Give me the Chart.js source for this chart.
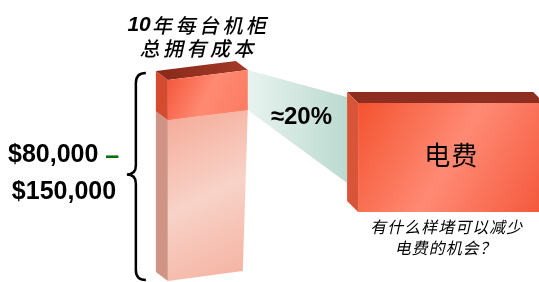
<!DOCTYPE html>
<html>
<head>
<meta charset="utf-8">
<script src="https://cdn.jsdelivr.net/npm/chart.js@4.4.1/dist/chart.umd.min.js"></script>
<style>
  body { margin: 0; background: #fff; }
  canvas { display: block; }
</style>
</head>
<body>
<canvas id="tcoChart" width="539" height="282"></canvas>
<script>
// data: share of 10-year TCO per rack
const categories = ['10年每台机柜总拥有成本', '', '电费'];
const otherCost = [80, null, null];
const powerCost = [20, null, null];
const powerZoom = [null, null, [0, 20]];
const titleLines = ['10年每台机柜', '总拥有成本'];
const rangeLabels = ['$80,000', '$150,000'];
const shareLabel = '≈20%';
const questionLines = ['有什么样堵可以减少', '电费的机会？'];

const CJK = '"Noto Sans CJK SC", sans-serif';
const LATIN = '"Liberation Sans", Arial, sans-serif';

function poly(ctx, pts, fill) {
    ctx.beginPath();
    ctx.moveTo(pts[0][0], pts[0][1]);
    for (let i = 1; i < pts.length; i++) ctx.lineTo(pts[i][0], pts[i][1]);
    ctx.closePath();
    ctx.fillStyle = fill;
    ctx.fill();
}

function grad(ctx, x0, y0, x1, y1, stops) {
    const g = ctx.createLinearGradient(x0, y0, x1, y1);
    stops.forEach(s => g.addColorStop(s[0], s[1]));
    return g;
}

// CJK fonts have no italic face, so slant by hand
function slanted(ctx, text, x, y) {
    ctx.save();
    ctx.translate(x, y);
    ctx.transform(1, 0, -0.22, 1, 0, 0);
    ctx.fillText(text, 0, 0);
    ctx.restore();
}

const boxPlugin = {
    id: 'boxes3d',
    afterDatasetsDraw(chart) {
        const ctx = chart.ctx;
        const low = chart.getDatasetMeta(0).data[0].getProps(['x', 'y', 'base', 'width'], true);
        const high = chart.getDatasetMeta(1).data[0].getProps(['x', 'y', 'base', 'width'], true);
        const box = chart.getDatasetMeta(2).data[2].getProps(['x', 'y', 'base', 'width'], true);

        // tall bar, slightly tilted
        const L = high.x - high.width / 2, R = high.x + high.width / 2;
        const tilt = 5;
        const yl = v => v + tilt, yr = v => v - tilt;
        const dx = -12, dy = -9;

        const bL = box.x - box.width / 2, bR = box.x + box.width / 2;
        const bdx = -11, bdy = -11;

        ctx.save();
        // connector wedge
        poly(ctx, [[R, yr(high.y)], [bL + bdx, box.y - 6], [bL + bdx, box.base - 29], [R, yr(high.base)]],
            grad(ctx, R, 0, bL, 0, [[0, '#e8f3ef'], [1, '#b6d8cc']]));

        // pale lower part
        poly(ctx, [[L + dx, yl(low.y) + dy], [L, yl(low.y)], [L, yl(low.base)], [L + dx, yl(low.base) + dy]], '#cf9486');
        poly(ctx, [[L, yl(low.y)], [R, yr(low.y)], [R - 5, yr(low.base)], [L, yl(low.base)]],
            grad(ctx, L, low.y, R, low.base, [[0, '#f5ab99'], [0.5, '#f8d3c8'], [1, '#f5b2a1']]));

        // red top part
        poly(ctx, [[L + dx, yl(high.y) + dy], [L, yl(high.y)], [L, yl(high.base)], [L + dx, yl(high.base) + dy]], '#d54b30');
        poly(ctx, [[L + dx, yl(high.y) + dy], [R + dx, yr(high.y) + dy], [R, yr(high.y)], [L, yl(high.y)]],
            grad(ctx, L, 0, R, 0, [[0, '#8c2b1c'], [1, '#a43a27']]));
        poly(ctx, [[L, yl(high.y)], [R, yr(high.y)], [R, yr(high.base)], [L, yl(high.base)]],
            grad(ctx, L, high.y, R, high.base, [[0, '#f4563a'], [0.5, '#ff8a72'], [1, '#fa7a60']]));

        // magnified power box
        poly(ctx, [[bL + bdx, box.y + bdy], [bR + bdx, box.y + bdy], [bR, box.y], [bL, box.y]], '#8e2e20');
        poly(ctx, [[bL + bdx, box.y + bdy], [bL, box.y], [bL, box.base], [bL + bdx, box.base + bdy]], '#d8553a');
        poly(ctx, [[bL, box.y], [bR, box.y], [bR, box.base], [bL, box.base]],
            grad(ctx, bL, box.y, bR, box.base, [[0, '#f3532f'], [0.5, '#ff8a74'], [1, '#f4573a']]));

        // curly bracket
        const top = yl(high.y) - 7, bot = yl(low.base) - 1, mid = (top + bot) / 2 - 2;
        const vx = L - 32, ex = L - 22, tx = L - 41;
        ctx.beginPath();
        ctx.moveTo(ex, top);
        ctx.quadraticCurveTo(vx, top, vx, top + 10);
        ctx.lineTo(vx, mid - 9);
        ctx.quadraticCurveTo(vx, mid, tx, mid);
        ctx.quadraticCurveTo(vx, mid, vx, mid + 9);
        ctx.lineTo(vx, bot - 10);
        ctx.quadraticCurveTo(vx, bot, ex, bot);
        ctx.lineWidth = 2.5;
        ctx.strokeStyle = '#000';
        ctx.stroke();

        // texts
        ctx.textBaseline = 'middle';
        ctx.fillStyle = '#000';

        // title
        const numPart = titleLines[0].slice(0, 2), zhPart = titleLines[0].slice(2);
        ctx.font = 'italic bold 21px ' + LATIN;
        const w1 = ctx.measureText(numPart).width;
        ctx.font = '500 20px ' + CJK;
        ctx.letterSpacing = '3.5px';
        const w2 = ctx.measureText(zhPart).width;
        const sx = high.x - 10 - (w1 + w2) / 2;
        ctx.textAlign = 'left';
        ctx.letterSpacing = '0px';
        ctx.font = 'italic bold 21px ' + LATIN;
        ctx.fillText(numPart, sx, 25);
        ctx.font = '500 20px ' + CJK;
        ctx.letterSpacing = '3.5px';
        slanted(ctx, zhPart, sx + w1 + 3, 25);
        ctx.textAlign = 'center';
        slanted(ctx, titleLines[1], high.x - 8, 48);
        ctx.letterSpacing = '0px';

        // cost range
        ctx.font = 'bold 25px ' + LATIN;
        ctx.textAlign = 'left';
        ctx.fillText(rangeLabels[0], 8, mid - 19);
        const rw = ctx.measureText(rangeLabels[0] + ' ').width;
        ctx.fillStyle = '#0a6e0a';
        ctx.fillText('–', 8 + rw, mid - 17);
        ctx.fillStyle = '#000';
        ctx.textAlign = 'center';
        ctx.fillText(rangeLabels[1], 64, mid + 18);

        // share
        ctx.font = 'bold 24px ' + LATIN;
        ctx.fillText(shareLabel, (R + bL + bdx) / 2 + 4, box.y + 14);

        // box label
        ctx.font = '26px ' + CJK;
        ctx.letterSpacing = '1px';
        ctx.fillText(categories[2], box.x, (box.y + box.base) / 2 - 2);

        // question
        ctx.font = '16px ' + CJK;
        slanted(ctx, questionLines[0], box.x - 3, box.base + 15);
        slanted(ctx, questionLines[1], box.x - 4, box.base + 36);
        ctx.restore();
    }
};

const clear = 'rgba(0,0,0,0)';
const ctx = document.getElementById('tcoChart').getContext('2d');
new Chart(ctx, {
    type: 'bar',
    data: {
        labels: categories,
        datasets: [
            { label: '其他成本', data: otherCost, yAxisID: 'y', barPercentage: 0.657, backgroundColor: clear, borderColor: clear },
            { label: '电费', data: powerCost, yAxisID: 'y', barPercentage: 0.657, backgroundColor: clear, borderColor: clear },
            { label: '电费放大', data: powerZoom, yAxisID: 'y2', barPercentage: 1.53, backgroundColor: clear, borderColor: clear }
        ]
    },
    options: {
        responsive: false,
        animation: false,
        events: [],
        layout: { padding: { left: 147, right: 27, top: 55, bottom: 6 } },
        datasets: {
            bar: { grouped: false, categoryPercentage: 1, borderWidth: 0 }
        },
        scales: {
            x: { display: false },
            y: { display: false, stacked: true, min: 0, max: 110 },
            y2: { display: false, min: -11.74, max: 28.81 }
        },
        plugins: {
            legend: { display: false },
            tooltip: { enabled: false },
            colors: { enabled: false }
        }
    },
    plugins: [boxPlugin]
});
</script>
</body>
</html>
